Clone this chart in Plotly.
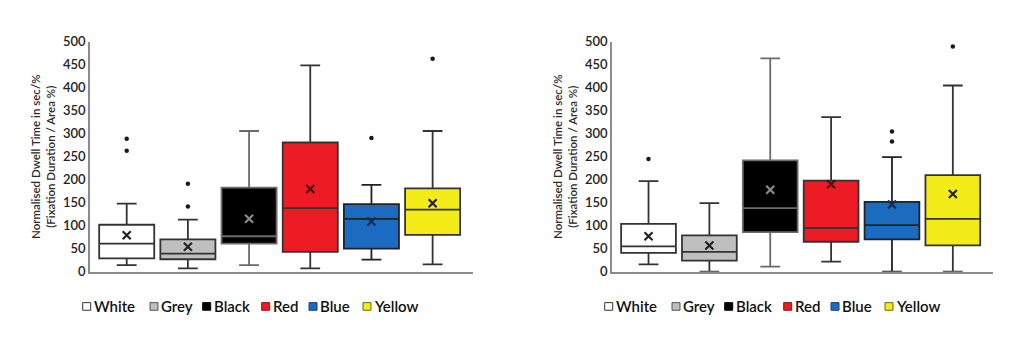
import plotly.graph_objects as go

# ---------------- data ----------------
categories = ["White", "Grey", "Black", "Red", "Blue", "Yellow"]

left_q1 = [29, 27, 61, 43, 50, 80]
left_median = [61, 39, 77, 138, 115, 135]
left_q3 = [102, 70, 183, 281, 147, 181]
left_lower = [14, 7, 14, 7, 26, 16]
left_upper = [148, 113, 306, 449, 189, 306]
left_mean = [79, 54, 115, 180, 109, 149]
left_outliers = [[263, 289], [142, 191], [], [], [291], [463]]

right_q1 = [41, 24, 86, 65, 70, 57]
right_median = [55, 43, 138, 95, 101, 115]
right_q3 = [104, 79, 242, 198, 152, 210]
right_lower = [16, 0, 11, 22, 0, 0]
right_upper = [197, 149, 464, 336, 249, 405]
right_mean = [77, 57, 178, 190, 146, 169]
right_outliers = [[245], [], [], [], [283, 305], [490]]

y_ticks = [0, 50, 100, 150, 200, 250, 300, 350, 400, 450, 500]
y_title = "Normalised Dwell Time in sec/%<br>(Fixation Duration / Area %)"

# ---------------- styles ----------------
fills = ["#ffffff", "#bfbfbf", "#000000", "#ed1c24", "#1b6cc1", "#f3ec19"]
edge = ["#333333", "#333333", "#6a6a6a", "#333333", "#222222", "#333333"]
mean_col = ["#222222", "#222222", "#8a8a8a", "#4a1010", "#1a2a4a", "#222222"]
legend_edge = ["#333333", "#555555", "#000000", "#8a1010", "#1a3f70", "#6a6a10"]
W, H = 1024, 344
FONT = "Lato"

fig = go.Figure()

charts = [
    dict(q1=left_q1, med=left_median, q3=left_q3, lo=left_lower, hi=left_upper,
         mean=left_mean, out=left_outliers, xa="x", ya="y"),
    dict(q1=right_q1, med=right_median, q3=right_q3, lo=right_lower, hi=right_upper,
         mean=right_mean, out=right_outliers, xa="x2", ya="y2"),
]

for ch in charts:
    for i, cat in enumerate(categories):
        fig.add_trace(go.Box(
            x=[cat], q1=[ch["q1"][i]], median=[ch["med"][i]], q3=[ch["q3"][i]],
            lowerfence=[ch["lo"][i]], upperfence=[ch["hi"][i]],
            width=0.9, whiskerwidth=0.36,
            fillcolor=fills[i], line=dict(color=edge[i], width=1.8),
            showlegend=False, xaxis=ch["xa"], yaxis=ch["ya"], hoverinfo="skip",
        ))
    fig.add_trace(go.Scatter(
        x=categories, y=ch["mean"], mode="markers",
        marker=dict(symbol="x-thin", size=8, line=dict(width=2.2, color=mean_col)),
        showlegend=False, xaxis=ch["xa"], yaxis=ch["ya"], hoverinfo="skip",
    ))
    ox, oy = [], []
    for cat, vals in zip(categories, ch["out"]):
        for v in vals:
            ox.append(cat)
            oy.append(v)
    fig.add_trace(go.Scatter(
        x=ox, y=oy, mode="markers",
        marker=dict(symbol="circle", size=4.5, color="#1a1a1a"),
        showlegend=False, xaxis=ch["xa"], yaxis=ch["ya"], hoverinfo="skip",
    ))

# ---------------- axes ----------------
y_bottom = (H - 276.5) / H
y_top = (H - 35.5) / H
xdom = [[90 / W, 473 / W], [612 / W, 993 / W]]

common_x = dict(type="category", categoryorder="array", categoryarray=categories,
                range=[-0.6, 5.66], showticklabels=False, ticks="", showgrid=False,
                zeroline=False, showline=True, linecolor="#8c8c8c", linewidth=1.8,
                fixedrange=True)
common_y = dict(range=[0, 500], tickvals=y_ticks, ticks="", showgrid=False,
                zeroline=False, showline=True, linecolor="#8c8c8c", linewidth=1.6,
                tickfont=dict(family=FONT, size=13, color="#222222", weight=600),
                title=dict(text=y_title, standoff=5,
                           font=dict(family=FONT, size=11.5, color="#2a2a2a", weight=600)),
                domain=[y_bottom, y_top], fixedrange=True)

fig.update_layout(
    width=W, height=H,
    margin=dict(l=0, r=0, t=0, b=0),
    paper_bgcolor="white", plot_bgcolor="white",
    xaxis=dict(common_x, domain=xdom[0], anchor="y"),
    xaxis2=dict(common_x, domain=xdom[1], anchor="y2"),
    yaxis=dict(common_y, anchor="x"),
    yaxis2=dict(common_y, anchor="x2"),
    showlegend=False,
)

# ---------------- legends (square + label per item) ----------------
legend_offsets = [0, 67.3, 120, 179, 226.3, 280.3]  # px from legend start
legend_starts = [82.7, 604.7]
sq = 8
ly = 313
for start in legend_starts:
    for i, cat in enumerate(categories):
        x0 = start + legend_offsets[i]
        fig.add_shape(type="rect", xref="paper", yref="paper",
                      x0=x0 / W, x1=(x0 + sq) / W,
                      y0=(H - ly - sq / 2) / H, y1=(H - ly + sq / 2) / H,
                      fillcolor=fills[i], line=dict(color=legend_edge[i], width=1))
        fig.add_annotation(xref="paper", yref="paper", x=(x0 + sq + 1) / W, y=(H - ly) / H,
                           text=cat, showarrow=False, xanchor="left", yanchor="middle",
                           font=dict(family=FONT, size=15, color="#111111", weight=600))

fig.write_html("out.html")
